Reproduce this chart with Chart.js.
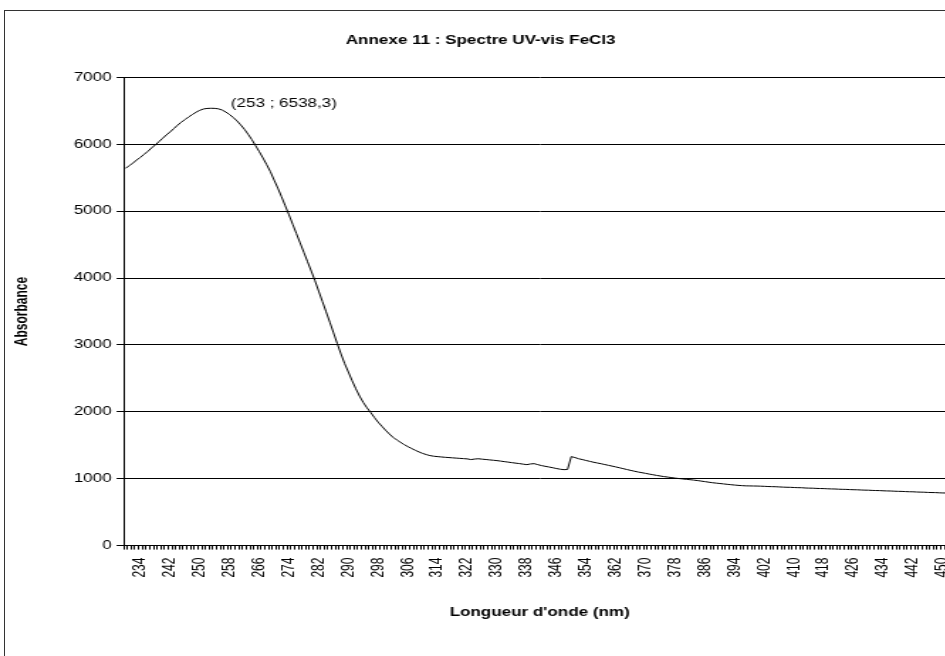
<!DOCTYPE html>
<html lang="fr">
<head>
<meta charset="utf-8">
<title>Annexe 11 : Spectre UV-vis FeCl3</title>
<script src="https://cdn.jsdelivr.net/npm/chart.js@4/dist/chart.umd.min.js"></script>
<style>
    html, body { margin: 0; padding: 0; background: #fff; overflow: hidden; width: 945px; height: 656px; }
    #cadre { position: absolute; left: 4px; top: 10px; width: 1100px; height: 800px; border: 1px solid #333; }
    /* le graphique est étiré horizontalement, comme l'export Excel d'origine */
    #zone { position: absolute; left: 0; top: 0; width: 677px; height: 656px; transform: scaleX(1.42); transform-origin: 0 0; }
</style>
</head>
<body>
<div id="cadre"></div>
<div id="zone"><canvas id="spectreChart"></canvas></div>
<script>
// Longueurs d'onde (nm), une mesure par nm
const debutNm = 230;
const finNm = 453;
const longueursOnde = [];
for (let nm = debutNm; nm <= finNm; nm++) longueursOnde.push(nm);

// Absorbance mesurée pour chaque longueur d'onde
const absorbance = [
    5640, 5680, 5720, 5765, 5805, 5850, 5895, 5945, 5990, 6040,
    6090, 6140, 6185, 6235, 6285, 6330, 6370, 6410, 6445, 6480,
    6508, 6528, 6536, 6538.3, 6537, 6530, 6512, 6482, 6445, 6400,
    6350, 6290, 6225, 6150, 6070, 5980, 5890, 5795, 5695, 5590,
    5465, 5345, 5215, 5080, 4945, 4805, 4665, 4525, 4385, 4245,
    4105, 3960, 3805, 3650, 3495, 3340, 3180, 3020, 2865, 2720,
    2595, 2465, 2345, 2235, 2140, 2060, 1990, 1915, 1845, 1785,
    1725, 1670, 1620, 1580, 1545, 1510, 1480, 1452, 1425, 1400,
    1378, 1360, 1345, 1336, 1330, 1325, 1320, 1316, 1312, 1308,
    1304, 1300, 1296, 1286, 1294, 1298, 1292, 1287, 1281, 1276,
    1270, 1263, 1255, 1248, 1240, 1233, 1226, 1218, 1210, 1220,
    1225, 1210, 1196, 1185, 1175, 1164, 1152, 1142, 1135, 1138,
    1330, 1316, 1298, 1286, 1272, 1259, 1246, 1235, 1224, 1212,
    1200, 1188, 1176, 1163, 1150, 1137, 1124, 1112, 1100, 1090,
    1080, 1069, 1059, 1049, 1040, 1031, 1024, 1016, 1009, 1002,
    996, 990, 985, 979, 972, 964, 956, 948, 940, 934,
    928, 922, 916, 910, 905, 900, 896, 893, 892, 891,
    890, 888, 886, 883, 881, 880, 877, 874, 872, 871,
    868, 866, 865, 861, 859, 858, 855, 853, 852, 849,
    847, 846, 843, 841, 840, 837, 835, 834, 831, 829,
    828, 825, 823, 822, 819, 817, 816, 813, 811, 810,
    807, 805, 804, 801, 799, 798, 795, 793, 792, 789,
    787, 786, 783, 781
];

// Pic annoté
const picNm = 253;

const police = "'Liberation Sans', Arial, sans-serif";

// Étiquette "(253 ; 6538,3)" à droite du maximum
const etiquettePic = {
    id: 'etiquettePic',
    afterDatasetsDraw(chart) {
        const i = longueursOnde.indexOf(picNm);
        const x = chart.scales.x.getPixelForValue(i);
        const y = chart.scales.y.getPixelForValue(absorbance[i]);
        const ctx = chart.ctx;
        ctx.save();
        ctx.font = '12px ' + police;
        ctx.fillStyle = '#000';
        ctx.textAlign = 'left';
        ctx.textBaseline = 'middle';
        ctx.fillText('(' + picNm + ' ; ' + String(absorbance[i]).replace('.', ',') + ')', x + 14, y - 5);
        ctx.restore();
    }
};

new Chart(document.getElementById('spectreChart'), {
    type: 'line',
    data: {
        labels: longueursOnde,
        datasets: [{
            label: 'FeCl3',
            data: absorbance,
            borderColor: '#000',
            borderWidth: 1,
            pointRadius: 0,
            tension: 0,
            fill: false
        }]
    },
    options: {
        responsive: true,
        maintainAspectRatio: false,
        animation: false,
        layout: { padding: { left: 0, right: 0, top: 0, bottom: 0 } },
        plugins: {
            legend: { display: false },
            tooltip: { enabled: false },
            title: {
                display: true,
                text: 'Annexe 11 : Spectre UV-vis FeCl3',
                color: '#000',
                font: { family: police, size: 12, weight: 'bold' },
                padding: { top: 33, bottom: 30 }
            }
        },
        scales: {
            x: {
                type: 'category',
                offset: true,
                grid: {
                    display: true,
                    offset: true,
                    drawOnChartArea: false,
                    drawTicks: true,
                    tickLength: 4,
                    color: '#000'
                },
                border: { display: true, color: '#000', width: 1 },
                ticks: {
                    autoSkip: false,
                    minRotation: 90,
                    maxRotation: 90,
                    padding: 8,
                    color: '#000',
                    font: { family: police, size: 12 },
                    callback: function(value, index) {
                        const nm = longueursOnde[index];
                        return (nm - 234) % 8 === 0 ? String(nm) : '';
                    }
                },
                title: {
                    display: true,
                    text: "Longueur d'onde (nm)",
                    color: '#000',
                    font: { family: police, size: 12, weight: 'bold' },
                    padding: { top: 20, bottom: 36 }
                },
                // l'axe va jusqu'au bord droit du cadre
                afterFit: function(scale) {
                    scale.paddingLeft = 0;
                    scale.paddingRight = 4;
                }
            },
            y: {
                min: 0,
                max: 7000,
                ticks: {
                    stepSize: 1000,
                    padding: 3.5,
                    color: '#000',
                    font: { family: police, size: 12 },
                    callback: function(value) {
                        return String(value);
                    }
                },
                grid: {
                    color: '#000',
                    drawTicks: true,
                    tickLength: 5
                },
                border: { display: true, color: '#000', width: 1 },
                title: {
                    display: true,
                    text: 'Absorbance',
                    color: '#000',
                    font: { family: police, size: 12, weight: 'bold' },
                    padding: { top: 8, bottom: 26 }
                }
            }
        }
    },
    plugins: [etiquettePic]
});
</script>
</body>
</html>
